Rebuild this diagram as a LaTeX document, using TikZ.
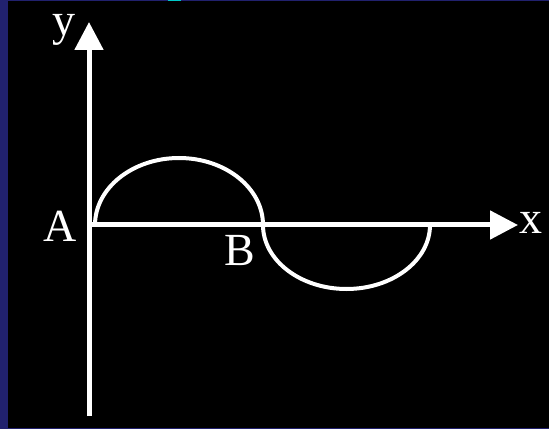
\documentclass[tikz,border=0pt]{standalone}
\usepackage{fontspec}
\setmainfont{Liberation Serif}
\usetikzlibrary{arrows.meta}

\definecolor{frameblue}{RGB}{33,33,110}
\definecolor{markcyan}{RGB}{0,200,200}

\begin{document}
\begin{tikzpicture}[x=1pt, y=1pt,
  axis/.style={draw=white, line width=5pt, -{Triangle[length=28pt, width=28pt]}},
  curve/.style={draw=white, line width=4pt},
  lbl/.style={text=white, inner sep=0pt, font=\fontsize{46}{46}\selectfont}
]

  % Background and frame
  \useasboundingbox (0,0) rectangle (549,429);
  \fill[black] (0,0) rectangle (549,429);
  \fill[frameblue] (0,0) rectangle (8,429);
  \fill[frameblue] (0,427.8) rectangle (549,429);
  \fill[frameblue] (0,0) rectangle (549,1.5);
  \fill[markcyan] (168,427.8) rectangle (181,429);

  % Axis points
  \coordinate (O) at (89,204);
  \coordinate (ybot) at (89,13);
  \coordinate (ytop) at (89,407);
  \coordinate (xend) at (518,204);

  % Axes
  \draw[axis] (ybot) -- (ytop);
  \draw[axis] (O) -- (xend);

  % Half waves
  \coordinate (Astart) at (95,204);
  \coordinate (Bpt) at (263,204);
  \draw[curve] (Astart) arc[start angle=180, end angle=0, x radius=84, y radius=67];
  \draw[curve] (Bpt) arc[start angle=180, end angle=360, x radius=83.5, y radius=64];

  % Labels
  \node[lbl] (ylab) at (64,399) {y};
  \node[lbl] (Alab) at (60,203) {A};
  \node[lbl] (Blab) at (240,178) {B};
  \node[lbl] (xlab) at (531,206) {x};

\end{tikzpicture}
\end{document}
